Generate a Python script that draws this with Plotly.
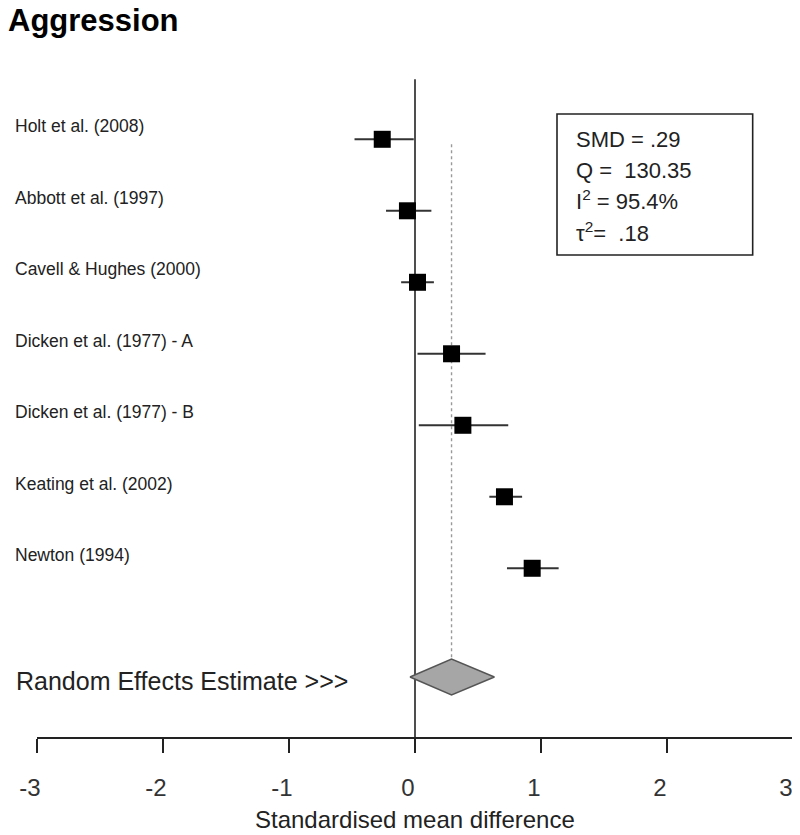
import plotly.graph_objects as go

# ---- data ----
studies = ["Holt et al. (2008)", "Abbott et al. (1997)", "Cavell & Hughes (2000)",
           "Dicken et al. (1977) - A", "Dicken et al. (1977) - B",
           "Keating et al. (2002)", "Newton (1994)"]
smd = [-0.26, -0.06, 0.02, 0.29, 0.38, 0.71, 0.93]
ci_low = [-0.48, -0.23, -0.11, 0.02, 0.03, 0.59, 0.73]
ci_high = [-0.01, 0.13, 0.15, 0.56, 0.74, 0.85, 1.14]
pooled_smd = 0.29
pooled_low = -0.04
pooled_high = 0.63
tick_vals = [-3, -2, -1, 0, 1, 2, 3]
tick_text = ["-3", "-2", "-1", "0", "1", "2", "3"]
stats_lines = ["SMD = .29", "Q =  130.35", "I<sup>2</sup> = 95.4%", "τ<sup>2</sup>=  .18"]

rows = list(range(1, len(studies) + 1))
pooled_row = 8.52

FONT = "Liberation Sans, Arial, sans-serif"
fig = go.Figure()

# zero reference line
fig.add_trace(go.Scatter(x=[0, 0], y=[0.16, 9.36], mode="lines",
                         line=dict(color="#222222", width=1.6), hoverinfo="skip"))
# dotted pooled line
fig.add_trace(go.Scatter(x=[pooled_smd, pooled_smd], y=[1.07, pooled_row - 0.25], mode="lines",
                         line=dict(color="#999999", width=1.4, dash="dot"), hoverinfo="skip"))

# study estimates with CIs
fig.add_trace(go.Scatter(
    x=smd, y=rows, mode="markers",
    marker=dict(symbol="square", size=17, color="black"),
    error_x=dict(type="data", symmetric=False,
                 array=[h - m for h, m in zip(ci_high, smd)],
                 arrayminus=[m - l for m, l in zip(smd, ci_low)],
                 color="#333333", thickness=2, width=0),
    hoverinfo="x+y"))

# pooled diamond
h = 0.25
fig.add_trace(go.Scatter(
    x=[pooled_low, pooled_smd, pooled_high, pooled_smd, pooled_low],
    y=[pooled_row, pooled_row - h, pooled_row, pooled_row + h, pooled_row],
    mode="lines", fill="toself", fillcolor="#A6A6A6",
    line=dict(color="#555555", width=1.5), hoverinfo="skip"))

annotations = []
for s, r in zip(studies, rows):
    annotations.append(dict(text=s, x=-0.0317, xref="paper", y=r - 0.18, yref="y",
                            xanchor="left", yanchor="middle", showarrow=False,
                            font=dict(family=FONT, size=17.5, color="#222222")))
annotations.append(dict(text="Random Effects Estimate >>>", x=-0.030, xref="paper",
                        y=pooled_row + 0.06, yref="y", xanchor="left", yanchor="middle",
                        showarrow=False, font=dict(family=FONT, size=25, color="#222222")))
stat_y = [1.0, 1.43, 1.85, 2.30]
for t, yy in zip(stats_lines, stat_y):
    annotations.append(dict(text=t, x=1.262, xref="x", y=yy, yref="y",
                            xanchor="left", yanchor="middle", showarrow=False,
                            font=dict(family=FONT, size=22, color="#222222")))
annotations.append(dict(text="Standardised mean difference", x=0.5, xref="paper",
                        y=-0.122, yref="paper", xanchor="center", yanchor="middle",
                        showarrow=False, font=dict(family=FONT, size=24, color="#222222")))

fig.update_layout(
    width=792, height=827,
    margin=dict(l=29, r=7, t=52, b=98),
    paper_bgcolor="white", plot_bgcolor="white",
    showlegend=False,
    title=dict(text="<b>Aggression</b>", x=0.0, xanchor="left", xref="container",
               y=1 - 12 / 827, yanchor="middle", yref="container",
               font=dict(family=FONT, size=31, color="black")),
    xaxis=dict(range=[-3, 3], tickvals=tick_vals, ticktext=tick_text,
               showgrid=False, zeroline=False, showline=True, linecolor="#222222",
               linewidth=1.6, ticks="outside", ticklen=14, tickwidth=1.6,
               tickcolor="#222222", tickfont=dict(family=FONT, size=24, color="#333333"),
               ticklabelstandoff=14, ticklabelshift=-7, automargin=False),
    yaxis=dict(range=[9.36, -0.109], visible=False, showgrid=False, zeroline=False,
               automargin=False),
    shapes=[dict(type="rect", xref="x", yref="y", x0=1.127, x1=2.680, y0=0.646, y1=2.618,
                 line=dict(color="#222222", width=1.6), fillcolor="rgba(0,0,0,0)")],
    annotations=annotations,
)

fig.write_html("out.html")
